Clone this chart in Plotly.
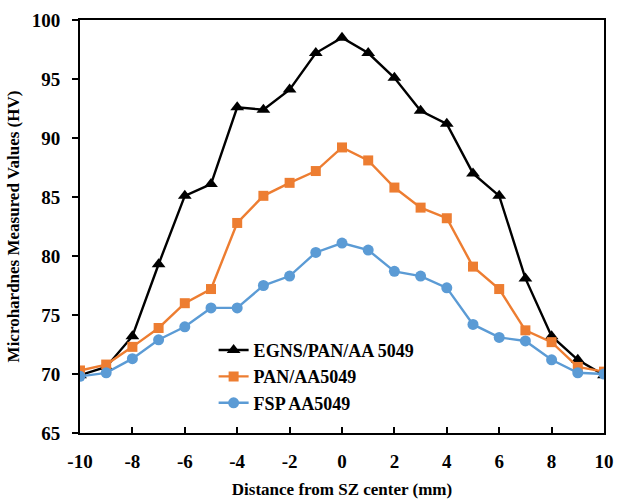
import plotly.graph_objects as go

distance = [-10, -9, -8, -7, -6, -5, -4, -3, -2, -1, 0, 1, 2, 3, 4, 5, 6, 7, 8, 9, 10]

egns_pan = [69.9, 70.6, 73.2, 79.3, 85.1, 86.1, 92.6, 92.4, 94.1, 97.2, 98.5,
            97.2, 95.1, 92.3, 91.2, 87.0, 85.1, 78.1, 73.2, 71.2, 69.9]
pan = [70.3, 70.8, 72.3, 73.9, 76.0, 77.2, 82.8, 85.1, 86.2, 87.2, 89.2,
       88.1, 85.8, 84.1, 83.2, 79.1, 77.2, 73.7, 72.7, 70.6, 70.2]
fsp = [69.8, 70.1, 71.3, 72.9, 74.0, 75.6, 75.6, 77.5, 78.3, 80.3, 81.1,
       80.5, 78.7, 78.3, 77.3, 74.2, 73.1, 72.8, 71.2, 70.1, 70.0]

names = ["EGNS/PAN/AA 5049", "PAN/AA5049", "FSP AA5049"]
x_ticks = list(range(-10, 11, 2))
y_ticks = list(range(65, 101, 5))

FONT = "Liberation Serif"

fig = go.Figure()
fig.add_trace(go.Scatter(x=distance, y=egns_pan, name=names[0], mode="lines+markers",
                         line=dict(color="black", width=2.4),
                         marker=dict(symbol="triangle-up", size=12, color="black")))
fig.add_trace(go.Scatter(x=distance, y=pan, name=names[1], mode="lines+markers",
                         line=dict(color="#ED7D31", width=2.4),
                         marker=dict(symbol="square", size=10, color="#ED7D31")))
fig.add_trace(go.Scatter(x=distance, y=fsp, name=names[2], mode="lines+markers",
                         line=dict(color="#5B9BD5", width=2.4),
                         marker=dict(symbol="circle", size=11, color="#5B9BD5")))

fig.update_layout(
    width=617, height=499,
    margin=dict(l=80, r=13, t=20, b=66),
    plot_bgcolor="white", paper_bgcolor="white",
    font=dict(family=FONT, color="black", size=17, weight="bold"),
    showlegend=True,
    legend=dict(x=0.255, y=0.245, xanchor="left", yanchor="top",
                bgcolor="rgba(0,0,0,0)", tracegroupgap=0,
                font=dict(family=FONT, size=18, color="black", weight="bold")),
    xaxis=dict(
        range=[-10, 10], tickvals=x_ticks, ticktext=[str(v) for v in x_ticks],
        ticks="inside", ticklen=6, tickwidth=2, tickcolor="black",
        showline=True, linecolor="black", linewidth=2, mirror=True,
        showgrid=False, zeroline=False, ticklabelstandoff=10, automargin=False,
        tickfont=dict(family=FONT, size=19, color="black", weight="bold"),
        title=dict(text="Distance from SZ center (mm)", standoff=12,
                   font=dict(family=FONT, size=17, color="black", weight="bold")),
    ),
    yaxis=dict(
        range=[65, 100], tickvals=y_ticks, ticktext=[str(v) for v in y_ticks],
        ticks="outside", ticklen=6, tickwidth=2, tickcolor="black",
        showline=True, linecolor="black", linewidth=2, mirror=True,
        showgrid=False, zeroline=False, ticklabelstandoff=8, automargin=False,
        tickfont=dict(family=FONT, size=19, color="black", weight="bold"),
        title=dict(text="Microhardnes Measured Values (HV)", standoff=8,
                   font=dict(family=FONT, size=17, color="black", weight="bold")),
    ),
)

fig.write_html("out.html")
